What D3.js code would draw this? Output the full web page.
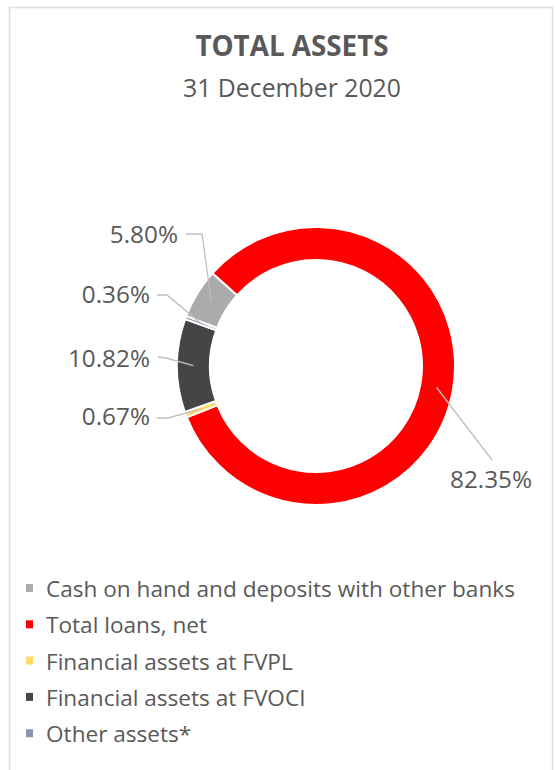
<!DOCTYPE html>
<html>
<head>
<meta charset="utf-8">
<script src="https://cdn.jsdelivr.net/npm/d3@7"></script>
<style>
  html, body { margin: 0; padding: 0; background: #fff; }
  svg { display: block; }
  text { font-family: "Open Sans", "Noto Sans", sans-serif; fill: #595959; }
</style>
</head>
<body>
<svg id="chart" width="555" height="770"></svg>
<script>
// ---- data ----
const categories = [
  "Cash on hand and deposits with other banks",
  "Total loans, net",
  "Financial assets at FVPL",
  "Financial assets at FVOCI",
  "Other assets*"
];
const values = [5.80, 82.35, 0.67, 10.82, 0.36];
const valueLabels = ["5.80%", "82.35%", "0.67%", "10.82%", "0.36%"];
const colors = ["#ABABAB", "#FF0000", "#FFD966", "#454545", "#8497B0"];
const title = "TOTAL ASSETS";
const subtitle = "31 December 2020";

// ---- layout ----
const W = 555, H = 770;
const cx = 316, cy = 366, rOuter = 139, rInner = 106;
const startDeg = -69;
const labelLayout = [
  {x: 178, y: 243, anchor: "end",   path: [[186, 234], [202, 234]]},
  {x: 450, y: 488, anchor: "start", path: [[492, 460]]},
  {x: 150, y: 425, anchor: "end",   path: [[157, 418], [168, 418]]},
  {x: 150, y: 367, anchor: "end",   path: [[158, 357], [166, 358]]},
  {x: 150, y: 303, anchor: "end",   path: [[157, 295], [167, 295]]}
];

const svg = d3.select("#chart");

// frame
svg.append("rect")
  .attr("x", 9.5).attr("y", 7.5)
  .attr("width", 543).attr("height", 790)
  .attr("fill", "none").attr("stroke", "#dedede").attr("stroke-width", 1.5);

// titles
svg.append("text").attr("x", 292).attr("y", 56)
  .attr("text-anchor", "middle").attr("font-size", 27.8).attr("font-weight", 700)
  .text(title);
svg.append("text").attr("x", 292).attr("y", 97)
  .attr("text-anchor", "middle").attr("font-size", 24.8)
  .text(subtitle);

// donut
const pie = d3.pie().sort(null).value(d => d)
  .startAngle(startDeg * Math.PI / 180)
  .endAngle(startDeg * Math.PI / 180 + 2 * Math.PI);
const arcs = pie(values);
const arc = d3.arc().innerRadius(rInner).outerRadius(rOuter);
const g = svg.append("g").attr("transform", `translate(${cx},${cy})`);
g.selectAll("path.slice").data(arcs).join("path")
  .attr("class", "slice")
  .attr("d", arc)
  .attr("fill", (d, i) => colors[i])
  .attr("stroke", "#fff").attr("stroke-width", 2);

// leader lines + labels
const midArc = d3.arc().innerRadius((rInner + rOuter) / 2).outerRadius((rInner + rOuter) / 2);
const line = d3.line();
arcs.forEach((d, i) => {
  const c = midArc.centroid(d);
  const pt = [cx + c[0], cy + c[1]];
  const L = labelLayout[i];
  const pts = L.path.concat([pt]);
  svg.append("path").attr("d", line(pts))
    .attr("fill", "none").attr("stroke", "#BFBFBF").attr("stroke-width", 1.3);
  svg.append("text").attr("x", L.x).attr("y", L.y)
    .attr("text-anchor", L.anchor).attr("font-size", 24.3)
    .text(valueLabels[i]);
});

// legend
const legendY0 = 597, legendStep = 36.3;
const lg = svg.append("g");
categories.forEach((c, i) => {
  const y = legendY0 + i * legendStep;
  lg.append("rect").attr("x", 26).attr("y", y - 13).attr("width", 7).attr("height", 8)
    .attr("fill", colors[i]);
  lg.append("text").attr("x", 46).attr("y", y).attr("font-size", 22.6).text(c);
});
</script>
</body>
</html>
